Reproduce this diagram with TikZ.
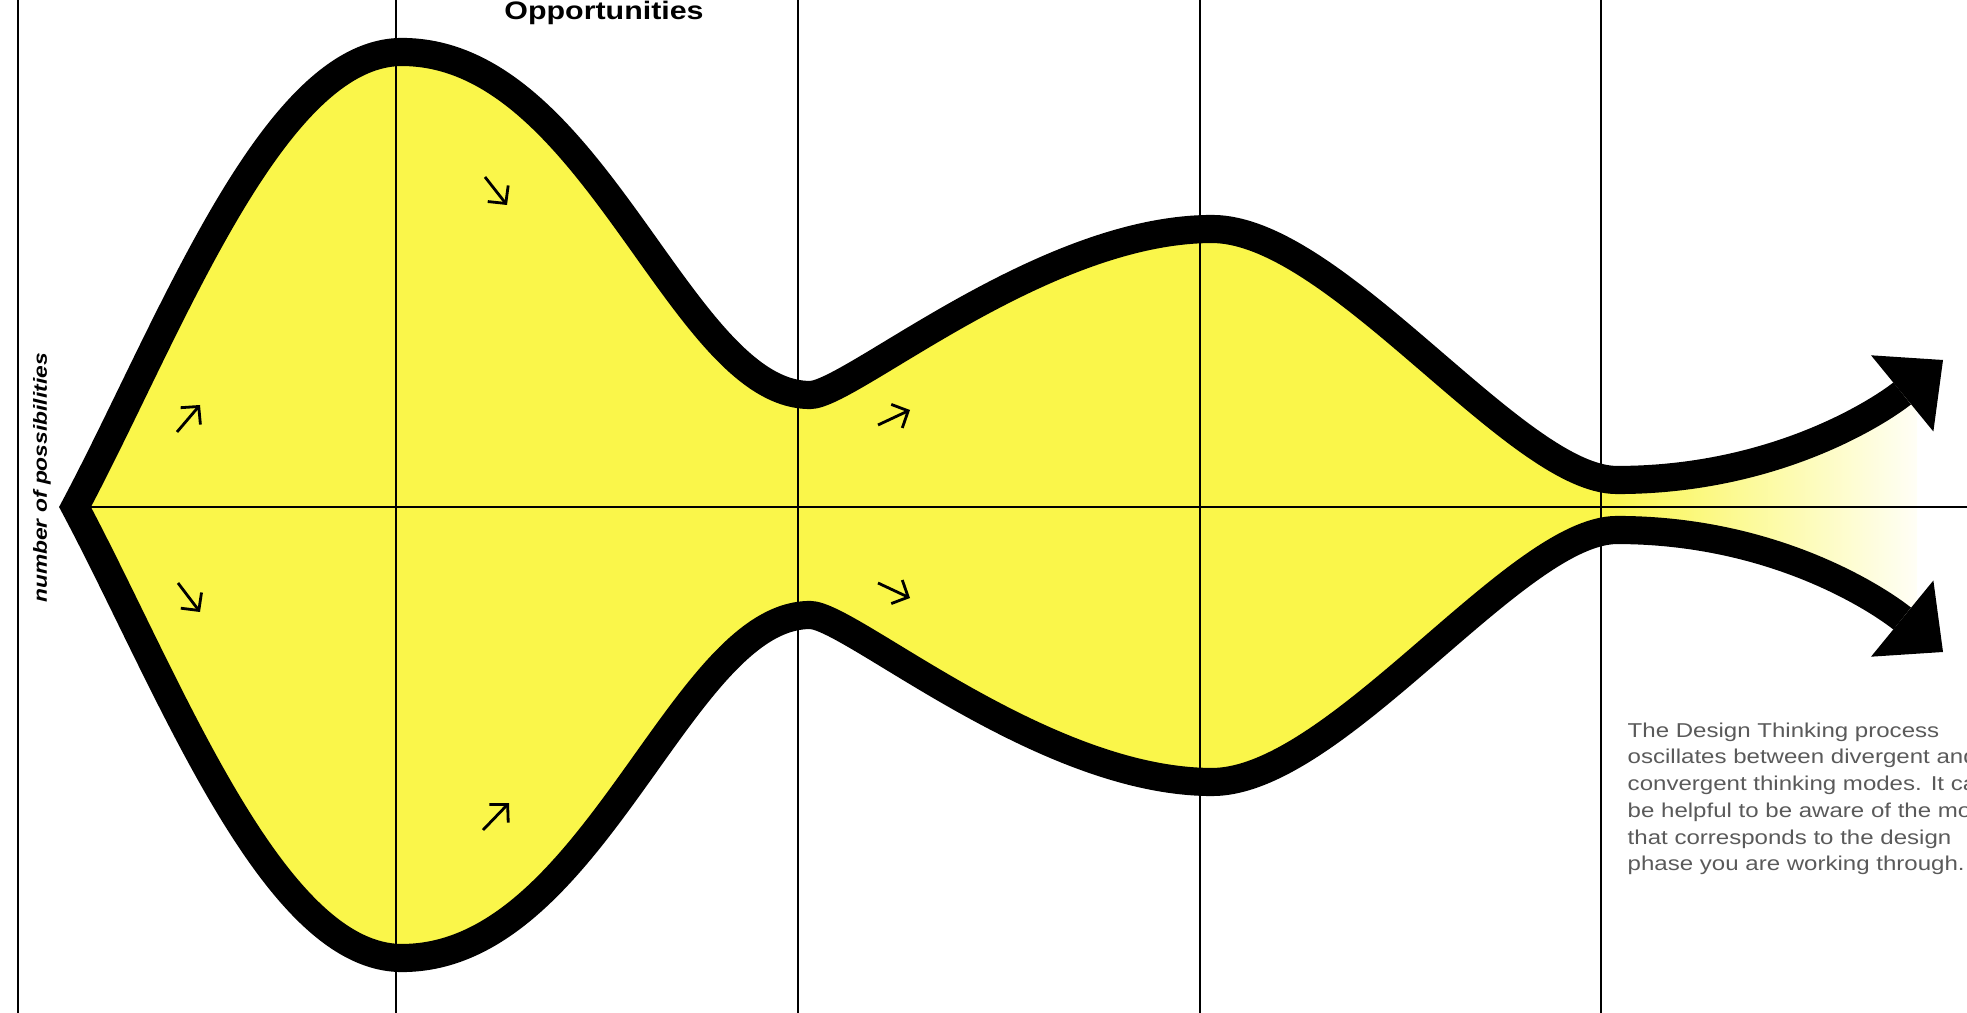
\documentclass[tikz,border=0pt]{standalone}
\usepackage{fontspec}
\setmainfont{Liberation Sans}[FakeStretch=1.2]
\usetikzlibrary{arrows.meta}
\definecolor{dtyellow}{HTML}{FAF64A}
\definecolor{dtgrey}{HTML}{5A5A5A}
% divergent / convergent outline, upper tip -> apex -> lower tip
\def\modeline{(uptip) .. controls +(-55,45) and +(165,0) .. (up4)
  .. controls +(-101,0) and +(124,0) .. (up3)
  .. controls +(-170,0) and +(40,0) .. (up2)
  .. controls +(-130,0) and +(191,0) .. (up1)
  .. controls +(-130,0) and +(94,-177) .. (apex)
  .. controls +(94,177) and +(-130,0) .. (lo1)
  .. controls +(191,0) and +(-130,0) .. (lo2)
  .. controls +(40,0) and +(-170,0) .. (lo3)
  .. controls +(124,0) and +(-101,0) .. (lo4)
  .. controls +(165,0) and +(-55,-45) .. (lotip)}

\begin{document}
\begin{tikzpicture}[x=0.01cm,y=-0.01cm,
  grid/.style={draw=black,line width=0.6pt},
  outline/.style={line width=8pt,line join=miter,
    {Triangle[width=28pt,length=15pt,line width=0pt]}-{Triangle[width=28pt,length=15pt,line width=0pt]}},
  flow/.style={line width=0.8pt,-{Straight Barb[length=3.6pt,width=7.4pt]}},
  txt/.style={inner sep=0pt}
]
\useasboundingbox (0,0) rectangle (1967,1013);
\clip (0,0) rectangle (1967,1013);

\coordinate (apex) at (75,507);
\coordinate (up1) at (402,52);
\coordinate (up2) at (810,395);
\coordinate (up3) at (1212,229);
\coordinate (up4) at (1617,480);
\coordinate (uptip) at (1943,360);
\coordinate (lo1) at (402,958);
\coordinate (lo2) at (810,615);
\coordinate (lo3) at (1212,782);
\coordinate (lo4) at (1617,530);
\coordinate (lotip) at (1943,652);
\coordinate (axisend) at (1967,507);

% yellow body, fading out after the last phase
\begin{scope}
  \clip \modeline -- cycle;
  \fill[dtyellow] (0,0) rectangle (1601,1013);
  \shade[left color=dtyellow,right color=dtyellow!5] (1601,0) rectangle (1917,1013);
\end{scope}

% phase lines and axis
\foreach \x in {18,396,798,1200,1601}
  \draw[grid] (\x,0) -- (\x,1013);
\draw[grid] (apex) -- (axisend);

\draw[outline] \modeline;

% small direction arrows
\foreach \x/\y/\dx/\dy in {177/432/23/-27, 485/177/22/28, 178/583/22/29,
                          483/830/26/-27, 878/425/32/-15, 878/583/32/15}
  \draw[flow] (\x,\y) -- ++(\dx,\dy);

\node[txt,anchor=base,font=\bfseries\fontsize{7.2pt}{8pt}\selectfont] (heading) at (604,20) {Opportunities};
\node[txt,anchor=base,rotate=90,font=\bfseries\itshape\fontsize{5.4pt}{6pt}\selectfont] (axislabel) at (47,478) {number of possibilities};
\node[txt,anchor=north west,align=left,text=dtgrey,font=\fontsize{5.7pt}{7.6pt}\selectfont] (note) at (1627,722)
  {The Design Thinking process\\oscillates between divergent and\\convergent thinking modes. It can\\be helpful to be aware of the mode\\that corresponds to the design\\phase you are working through.};
\end{tikzpicture}
\end{document}
